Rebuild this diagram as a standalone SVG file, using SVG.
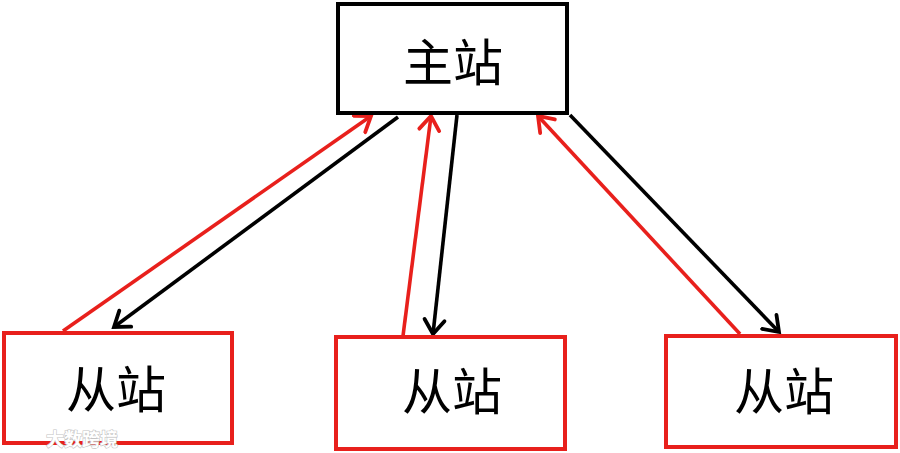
<svg xmlns="http://www.w3.org/2000/svg" width="900" height="453" viewBox="0 0 900 453">
<style>
.box{fill:#fff;stroke-width:4}
.master{stroke:#000}
.slave{stroke:#e8201c}
.lbl{font-family:"Noto Sans CJK SC","Noto Sans CJK JP",sans-serif;font-size:50px;fill:#000;text-anchor:middle;dominant-baseline:central}
.up{stroke:#e8201c;stroke-width:3.6;fill:none}
.down{stroke:#000;stroke-width:3.6;fill:none}
.wm{font-family:"Noto Sans CJK SC",sans-serif;font-size:18px;font-weight:bold;fill:#fff;stroke:#c4c4c4;stroke-width:1.2;paint-order:stroke}
</style>
<defs>
<marker id="ar" markerUnits="userSpaceOnUse" markerWidth="32" markerHeight="32" refX="16" refY="16" orient="auto" viewBox="0 0 32 32">
<path d="M2,6 L16,16 L2,26" fill="none" stroke="#e8201c" stroke-width="3.8" stroke-linecap="round" stroke-linejoin="miter"/>
</marker>
<marker id="ab" markerUnits="userSpaceOnUse" markerWidth="32" markerHeight="32" refX="16" refY="16" orient="auto" viewBox="0 0 32 32">
<path d="M2,6 L16,16 L2,26" fill="none" stroke="#000" stroke-width="3.8" stroke-linecap="round" stroke-linejoin="miter"/>
</marker>
</defs>
<rect width="900" height="453" fill="#fff"/>
<g id="connectors">
<line class="up" x1="63" y1="331" x2="371" y2="116" marker-end="url(#ar)"/>
<line class="down" x1="398" y1="117" x2="114" y2="327" marker-end="url(#ab)"/>
<line class="up" x1="403" y1="336" x2="431" y2="116" marker-end="url(#ar)"/>
<line class="down" x1="457" y1="115" x2="433" y2="334" marker-end="url(#ab)"/>
<line class="up" x1="740" y1="334" x2="538" y2="116" marker-end="url(#ar)"/>
<line class="down" x1="570" y1="115" x2="779" y2="332" marker-end="url(#ab)"/>
</g>
<g id="master">
<rect class="box master" x="338" y="4" width="229" height="109"/>
<text class="lbl" x="453" y="59">主站</text>
</g>
<g id="slave1">
<rect class="box slave" x="4" y="333" width="228" height="110"/>
<text class="lbl" x="116" y="386">从站</text>
</g>
<g id="slave2">
<rect class="box slave" x="336" y="337" width="229" height="112"/>
<text class="lbl" x="452" y="388">从站</text>
</g>
<g id="slave3">
<rect class="box slave" x="666" y="336" width="230" height="111"/>
<text class="lbl" x="784" y="388">从站</text>
</g>
<g id="watermark">
<text class="wm" x="46" y="446">大数跨境</text>
</g>
</svg>
